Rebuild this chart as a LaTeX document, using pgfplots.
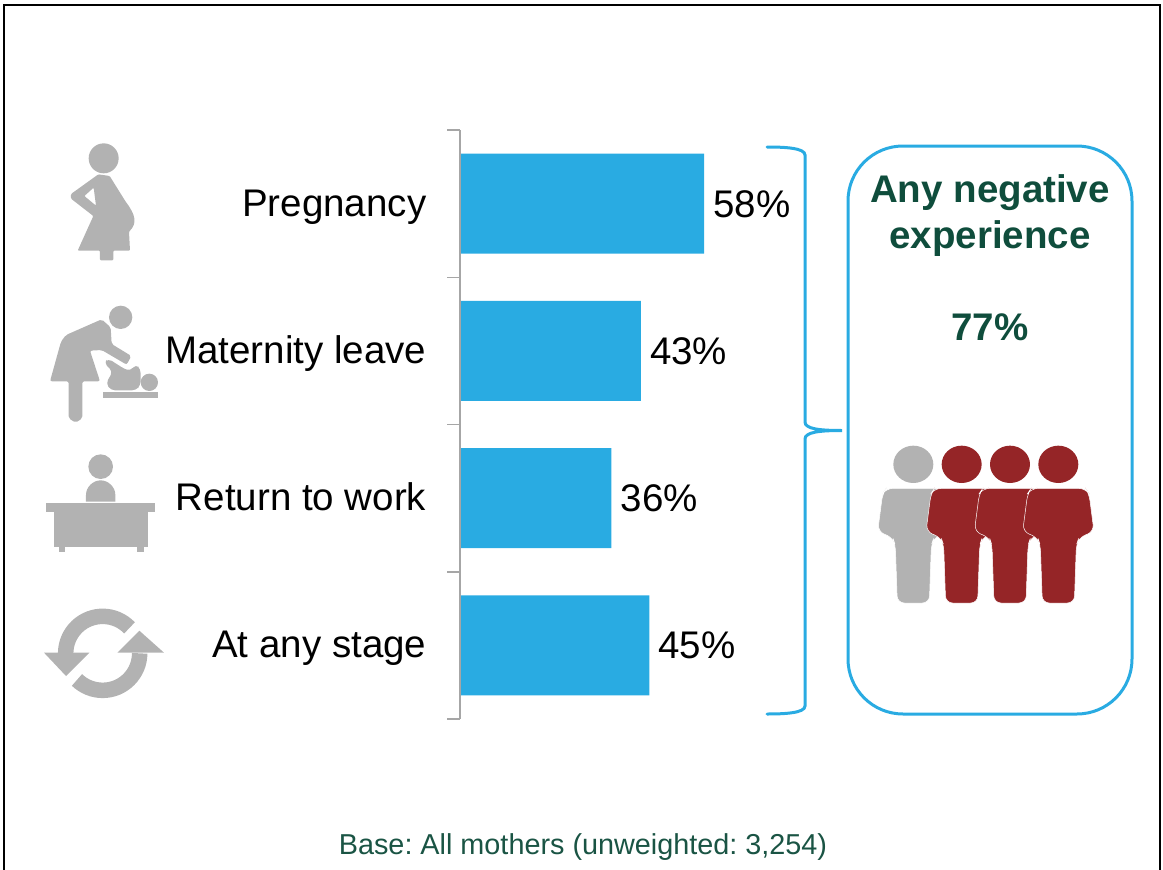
\documentclass[border=0pt]{standalone}
\usepackage{fontspec}
\setmainfont{Liberation Sans}
\usepackage{pgfplots}
\pgfplotsset{compat=1.18}
\definecolor{barblue}{HTML}{29ABE2}
\definecolor{icongray}{HTML}{B2B2B2}
\definecolor{axisgray}{HTML}{A6A6A6}
\definecolor{darkred}{HTML}{952527}
\definecolor{dkgreen}{HTML}{0F4D3C}
\definecolor{basegreen}{HTML}{1A5444}
\newcommand{\bigf}{\fontsize{38.5}{44}\selectfont}
\newcommand{\person}[2]{%
  \fill[#2] (#1,103) ellipse [x radius=60, y radius=56];
  \filldraw[fill=#2,draw=white,line width=0.5pt,rounded corners=7pt]
    ({#1-82},175) -- ({#1+82},175) -- ({#1+92},190) -- ({#1+107},305) -- ({#1+62},322)
    -- ({#1+54},345) -- ({#1+48},519) -- ({#1-48},519) -- ({#1-54},345)
    -- ({#1-62},322) -- ({#1-107},305) -- ({#1-92},190) -- cycle;
}
\begin{document}
\frenchspacing
\begin{tikzpicture}
\useasboundingbox (0pt,-870pt) rectangle (1163pt,0pt);
% frame (open at the bottom)
\draw[black,line width=2.2pt] (4pt,-870pt) -- (4pt,-5pt) -- (1160pt,-5pt) -- (1160pt,-870pt);
\begin{axis}[
  at={(460pt,-719pt)}, anchor=south west,
  width=420.7pt, height=589pt, scale only axis,
  xmin=0, xmax=100, ymin=0, ymax=4, y dir=reverse,
  axis y line=left, axis x line=none,
  axis line style={-,draw=axisgray,line width=1.5pt},
  xtick=\empty,
  ytick={0.5,1.5,2.5,3.5},
  yticklabels={Pregnancy,Maternity leave,Return to work,At any stage},
  minor ytick={0,1,2,3,4},
  tick align=outside,
  major tick length=0pt, minor tick length=13pt,
  minor tick style={draw=axisgray,line width=1.5pt},
  yticklabel style={font=\bigf,inner sep=0pt,anchor=east,xshift=-33.5pt,text height=25pt,text depth=0pt},
  clip=false, axis on top,
  /pgf/number format/assume math mode=true,
  xbar, bar width=100pt,
  bar shift=0pt,
  nodes near coords={\pgfmathprintnumber{\pgfplotspointmeta}\%},
  every node near coord/.append style={font=\bigf,text=black,inner sep=0pt,anchor=west,xshift=9pt,text height=27pt,text depth=0pt},
]
\addplot[fill=barblue,draw=none] coordinates {(58,0.5) (43,1.5) (36,2.5) (45,3.5)};
\end{axis}
% drawing in pixel coordinates
\begin{scope}[x=1pt,y=-1pt]
  % bracket
  \draw[barblue,line width=3pt,line cap=round]
    (767,147) .. controls (785,147) and (805,148) .. (805,155)
    -- (805,422) .. controls (805,429) and (820,430.5) .. (842,430.5)
    .. controls (820,430.5) and (805,432) .. (805,439)
    -- (805,706) .. controls (805,713) and (785,714) .. (767,714);
  % box
  \draw[barblue,line width=3pt,rounded corners=55pt] (848,146) rectangle (1132,714);
  % texts
  \node[font=\bigf\bfseries,text=dkgreen,inner sep=0pt,anchor=base] at (990,202.5) {Any negative};
  \node[font=\bigf\bfseries,text=dkgreen,inner sep=0pt,anchor=base] at (990,248.5) {experience};
  \node[font=\bigf\bfseries,text=dkgreen,inner sep=0pt,anchor=base] at (990,340) {77\%};
  \node[font=\fontsize{28.8}{34}\selectfont,text=basegreen,inner sep=0pt,anchor=base] at (583,854) {Base: All mothers (unweighted: 3,254)};
\end{scope}
% icons, in coordinates of a 3x crop
\begin{scope}[x=0.33333pt,y=-0.33333pt,shift={(30pt,-120pt)}]
  % pregnant woman
  \fill[icongray] (221,115) circle (45);
  \fill[icongray,even odd rule,rounded corners=1pt]
    (205,163) -- (123,222) -- (123,236) -- (190,288) -- (143,392) -- (210,392) -- (210,421)
    -- (250,421) -- (250,392) -- (300,392) -- (297,335) .. controls (322,310) and (317,285) .. (287,245)
    -- (239,168) -- cycle
    (163,228) -- (191,203) -- (198,257) -- cycle;
  % mother and baby
  \fill[icongray] (272,592) circle (35);
  \fill[icongray,rounded corners=2pt]
    (108,645) -- (215,598) -- (242,622) -- (245,672) -- (304,708) -- (290,734) -- (215,690) -- (180,692)
    -- (210,784) -- (157,784) -- (157,895) -- (137,908) -- (116,895) -- (116,784) -- (60,784) -- (93,665) -- cycle;
  \fill[icongray] (358,787) circle (26);
  \fill[icongray,rounded corners=4pt]
    (222,728) -- (235,716) -- (285,748) -- (302,752) -- (318,733) -- (332,748) -- (332,795) -- (318,811)
    -- (243,811) -- (228,790) -- (248,755) -- cycle;
  \fill[icongray] (219,815) rectangle (384,833);
\end{scope}
\begin{scope}[x=0.33333pt,y=-0.33333pt,shift={(30pt,-430pt)}]
  % desk
  \fill[icongray] (212,110) circle (37);
  \fill[icongray] (168,215) -- (168,195) .. controls (168,170) and (190,151) .. (212,151)
    .. controls (234,151) and (256,170) .. (256,195) -- (256,215) -- cycle;
  \fill[icongray] (48,218) rectangle (375,245);
  \fill[icongray] (72,245) rectangle (353,351);
  \fill[icongray] (86,351) rectangle (106,367);
  \fill[icongray] (321,351) rectangle (341,367);
  % cycle arrowheads
  \fill[icongray] (42,668) -- (178,668) -- (108,738) -- cycle;
  \fill[icongray] (262,668) -- (402,668) -- (328,602) -- cycle;
\end{scope}
% cycle arcs, unflipped so that angles are plain
\draw[icongray,line width=15.5pt] (102.67pt,-653.33pt) ++(43.5:37pt) arc[start angle=43.5,end angle=180,radius=37pt];
\draw[icongray,line width=15.5pt] (102.67pt,-653.33pt) ++(0:37pt) arc[start angle=0,end angle=-134,radius=37pt];
% group of people
\begin{scope}[x=0.33333pt,y=-0.33333pt,shift={(860pt,-430pt)}]
  \person{160}{icongray}
  \person{305}{darkred}
  \person{450}{darkred}
  \person{595}{darkred}
\end{scope}
\end{tikzpicture}
\end{document}
